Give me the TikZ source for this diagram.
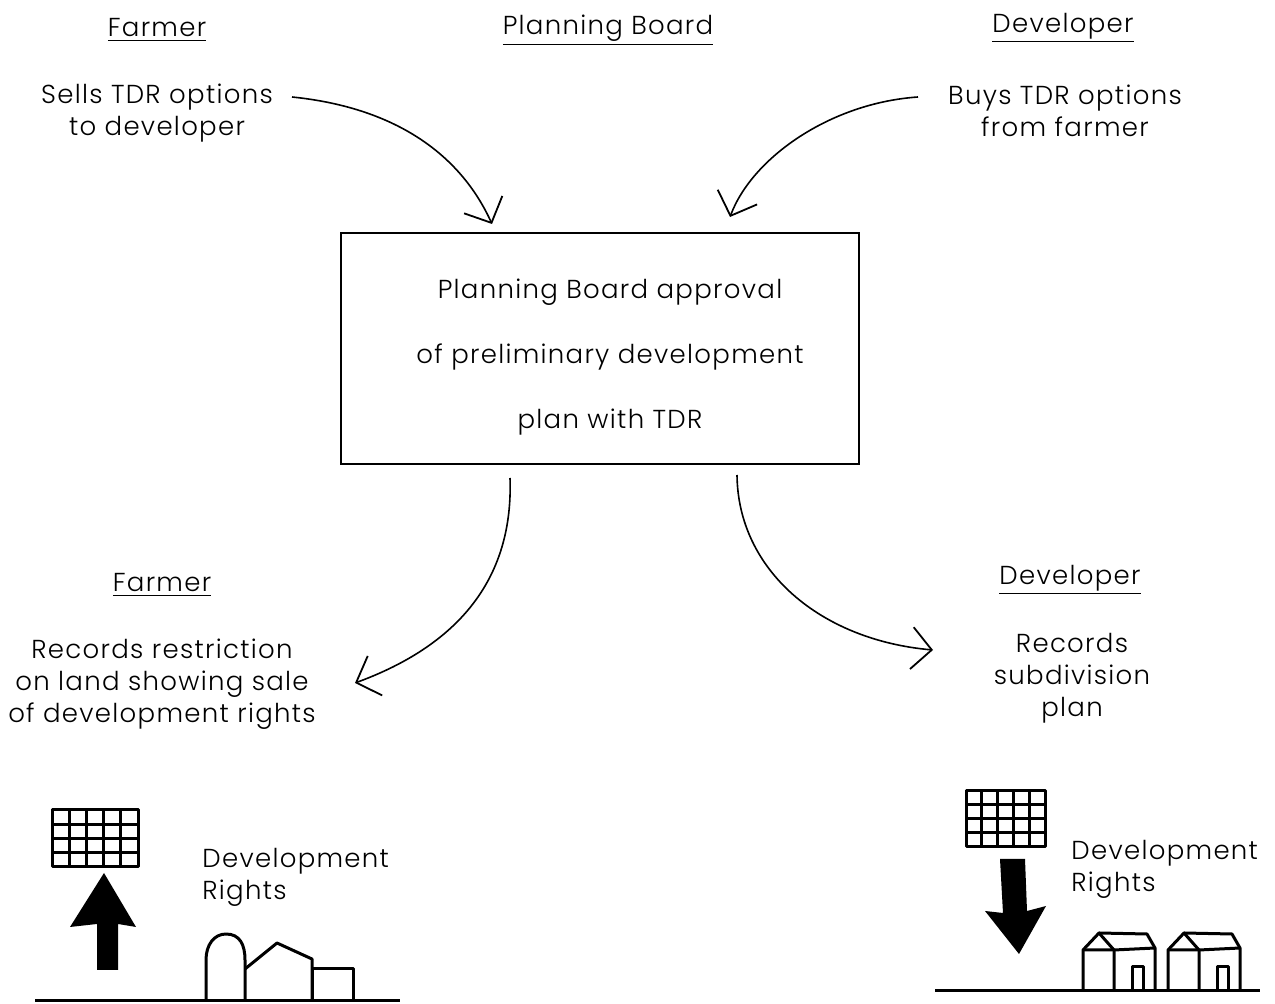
\documentclass[tikz,border=0pt]{standalone}
\usepackage{fontspec}
\setmainfont{Poppins}[UprightFont={* Light}, LetterSpace=5]
\usetikzlibrary{arrows.meta}

\begin{document}
\begin{tikzpicture}[x=0.5pt,y=-0.5pt]
        \tikzstyle{every node}=[font=\fontsize{13}{16}\selectfont, inner sep=0pt]
        \tikzstyle{head}=[font=\fontsize{13}{16}\selectfont]
        \tikzstyle{txt}=[align=center]
        \tikzstyle{flow}=[line width=0.8pt, -{Straight Barb[length=10pt,width=21pt,line width=0.9pt]}]
        \tikzstyle{sketch}=[line width=1.5pt, line join=round]
        \useasboundingbox (0,0) rectangle (1275,1004);

        % top row
        \node[head] (farmer1) at (157,30) {\underline{Farmer}};
        \node[head] (board) at (608,30) {\underline{Planning Board}};
        \node[head] (dev1) at (1063,28) {\underline{Developer}};
        \node[txt] (sells) at (157,113) {Sells TDR options\\to developer};
        \node[txt] (buys) at (1065,111) {Buys TDR options\\from farmer};

        % approval box
        \node[draw, line width=1pt, minimum width=259pt, minimum height=115.5pt] (approval) at (600,348.5) {};
        \node[txt, font=\fontsize{13}{32.5}\selectfont] (approvaltxt) at (610,357) {Planning Board approval\\of preliminary development\\plan with TDR};

        % bottom row
        \node[head] (farmer2) at (162,585) {\underline{Farmer}};
        \node[txt] (records1) at (162,684) {Records restriction\\on land showing sale\\of development rights};
        \node[head] (dev2) at (1070,580) {\underline{Developer}};
        \node[txt] (records2) at (1072,678) {Records\\subdivision\\plan};

        % arrow ends
        \coordinate (sellsend) at (292,97);
        \coordinate (buysend) at (918,97);
        \coordinate (in1) at (492,224);
        \coordinate (in2) at (730,217);
        \coordinate (out1) at (510,478);
        \coordinate (out2) at (737,475);
        \coordinate (farmerin) at (355,683);
        \coordinate (devin) at (933,650);

        \draw[flow] (sellsend) .. controls (400,108) and (462,158) .. (in1);
        \draw[flow] (buysend) .. controls (830,103) and (752,158) .. (in2);
        \draw[flow] (out1) .. controls (514,590) and (445,650) .. (farmerin);
        \draw[flow] (out2) .. controls (738,570) and (820,640) .. (devin);

        % farmer side: rights go up off the farm
        \draw[sketch] (52,810) rectangle (138,867);
        \foreach \x in {69.2,86.4,103.6,120.8} \draw[sketch] (\x,810) -- (\x,867);
        \foreach \y in {824.25,838.5,852.75} \draw[sketch] (52,\y) -- (138,\y);
        \fill (104,873) -- (136,927) -- (118,924) -- (118,970) -- (97,970) -- (97,924) -- (70,927) -- cycle;
        \node[anchor=west, txt, align=left] (rights1) at (202,877) {Development\\Rights};
        \draw[sketch] (35,1000) -- (400,1000);
        \draw[sketch] (206,1000) -- (206,960) .. controls (206,945) and (214,934) .. (226,934) .. controls (240,934) and (245,945) .. (245,960) -- (245,1000);
        \draw[sketch] (245,969) -- (277,943) -- (312,959) -- (312,1000);
        \draw[sketch] (312,969) rectangle (353,1000);

        % developer side: rights come down onto the lots
        \draw[sketch] (966,791) rectangle (1045,847);
        \foreach \x in {981.8,997.6,1013.4,1029.2} \draw[sketch] (\x,791) -- (\x,847);
        \foreach \y in {805,819,833} \draw[sketch] (966,\y) -- (1045,\y);
        \fill (1000,859) -- (1025,859) -- (1027,911) -- (1046,906) -- (1019,954) -- (985,911) -- (1003,913) -- cycle;
        \node[anchor=west, txt, align=left] (rights2) at (1071,869) {Development\\Rights};
        \draw[sketch] (935,990) -- (1260,990);
        \foreach \h in {1083,1168} {
            \draw[sketch] (\h,990) -- (\h,950) -- (\h+16,933) -- (\h+31,950) -- (\h+31,990);
            \draw[sketch] (\h,950) -- (\h+31,950) -- (\h+72,948) -- (\h+72,990);
            \draw[sketch] (\h+16,933) -- (\h+64,934) -- (\h+72,948);
            \draw[sketch] (\h+49,990) -- (\h+49,967) -- (\h+60,967) -- (\h+60,990);
        }
\end{tikzpicture}
\end{document}
